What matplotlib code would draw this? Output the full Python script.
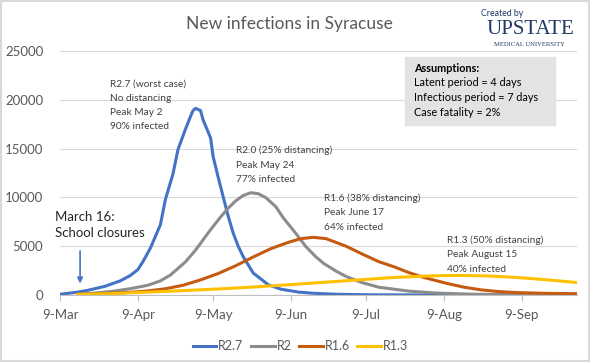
import datetime as dt

import matplotlib.dates as mdates
import matplotlib.pyplot as plt
import numpy as np

plt.rcParams["font.family"] = ["Lato", "DejaVu Sans"]

START = dt.date(2020, 3, 9)

# days since 9-Mar, new infections
r27_days = [0, 7, 11, 18, 24, 28, 31, 33.5, 36.5, 40, 42.5, 45, 47.5, 50, 52, 53.5, 54.7,
            56, 57.8, 60, 61.8, 63.8, 65.7, 67.7, 69.7, 71.7, 73.7, 77.7, 83, 88, 95, 101,
            110, 125, 150, 206]
r27_vals = [70, 300, 480, 900, 1450, 2000, 2600, 3400, 4800, 7200, 9800, 12400, 14900,
            17000, 18300, 18900, 19130, 18900, 17950, 16100, 14200, 12100, 10070, 8100,
            6350, 5000, 3930, 2250, 1050, 600, 300, 180, 80, 20, 5, 0]

r2_days = [7, 14, 21, 28, 35, 40, 44, 50, 54, 60, 64, 67, 70, 73, 76, 79, 82, 86, 89.6,
           94, 98, 102, 105, 110, 114, 120, 127.5, 139, 150, 165, 185, 206]
r2_vals = [80, 200, 380, 650, 1000, 1450, 2050, 3400, 4600, 6700, 8000, 8900, 9650,
           10200, 10480, 10380, 9980, 9050, 7900, 6300, 4950, 3900, 3250, 2450, 1900, 1300,
           800, 400, 200, 80, 30, 10]

r16_days = [7, 14, 21, 28, 35, 42, 49, 56, 63, 70, 77, 84, 91, 96, 101, 106, 114, 120,
            127.5, 133, 139, 145, 154, 161, 168, 175, 182, 194, 206]
r16_vals = [60, 110, 180, 280, 420, 640, 1000, 1550, 2200, 3000, 3900, 4750, 5400, 5780,
            5910, 5780, 5000, 4250, 3420, 2900, 2300, 1800, 1200, 800, 520, 350, 250, 170,
            140]

r13_days = [7, 21, 35, 49, 63, 77, 91, 105, 119, 133, 147, 159, 170, 182, 194, 206]
r13_vals = [50, 150, 300, 450, 620, 820, 1050, 1300, 1550, 1800, 1960, 2010, 1960, 1800,
            1560, 1280]

series = [
    ("R2.7", r27_days, r27_vals, "#4472C4"),
    ("R2", r2_days, r2_vals, "#8C8C8C"),
    ("R1.6", r16_days, r16_vals, "#C55A11"),
    ("R1.3", r13_days, r13_vals, "#FFC000"),
]

tick_months = [3, 4, 5, 6, 7, 8, 9]


def to_dates(days):
    return [START + dt.timedelta(days=d) for d in days]


def day(d):
    return mdates.date2num(START + dt.timedelta(days=d))


fig = plt.figure(figsize=(5.9, 3.62), dpi=100)
ax = fig.add_axes([0.1017, 0.185, 0.8763, 0.674])

for name, days, vals, color in series:
    ax.plot(to_dates(days), vals, color=color, lw=2.2, label=name, solid_joinstyle="round")

ax.set_ylim(0, 25000)
ax.set_xlim(START, START + dt.timedelta(days=206))
ax.set_yticks(np.arange(0, 25001, 5000))
ax.set_xticks([dt.date(2020, m, 9) for m in tick_months])
ax.xaxis.set_major_formatter(mdates.DateFormatter("%-d-%b"))
ax.grid(axis="y", color="#D9D9D9", lw=0.8)
ax.set_axisbelow(True)
for s in ["top", "right", "left"]:
    ax.spines[s].set_visible(False)
ax.spines["bottom"].set_color("#BFBFBF")
ax.tick_params(axis="y", length=0, labelsize=9.5, labelcolor="#595959", pad=12)
ax.tick_params(axis="x", length=4, color="#BFBFBF", labelsize=9.5, labelcolor="#595959", pad=6)

txt = dict(fontsize=7.3, color="#404040", va="top", ha="left", linespacing=1.75)
ax.text(day(20), 22100, "R2.7 (worst case)\nNo distancing\nPeak May 2\n90% infected", **txt)
ax.text(day(70.5), 15300, "R2.0 (25% distancing)\nPeak May 24\n77% infected", **txt)
ax.text(day(105.6), 10400, "R1.6 (38% distancing)\nPeak June 17\n64% infected", **txt)
ax.text(day(154.6), 6100, "R1.3 (50% distancing)\nPeak August 15\n40% infected", **txt)

ax.text(day(-1.3), 8600, "March 16:\nSchool closures", fontsize=9.5, color="#262626",
        va="top", ha="left", linespacing=1.35)
ax.annotate("", xy=(day(8.8), 900), xytext=(day(8.8), 4800),
            arrowprops=dict(arrowstyle="-|>", color="#4472C4", lw=1.2, mutation_scale=8))

fig.text(0.49, 0.935, "New infections in Syracuse", fontsize=12.5, color="#595959",
         ha="center", va="center")

# assumptions box
fig.patches.append(plt.Rectangle((405 / 590, 1 - 125 / 362), 150 / 590, 68 / 362,
                                 transform=fig.transFigure, color="#E3E3E3", zorder=1))
fig.text(414 / 590, 1 - 69 / 362, "Assumptions:", fontsize=7.8, fontweight="bold",
         color="black", va="center", zorder=2)
for i, line in enumerate(["Latent period = 4 days", "Infectious period = 7 days",
                          "Case fatality = 2%"]):
    fig.text(414 / 590, 1 - (83 + 14.5 * i) / 362, line, fontsize=7.8, color="black",
             va="center", zorder=2)

# logo
fig.text(481 / 590, 1 - 13 / 362, "Created by", fontsize=6.3, color="#1F3864", va="center")
fig.text(530 / 590, 1 - 30 / 362, "UPSTATE", fontsize=15, color="#1F3864", va="center",
         ha="center", family="Liberation Serif")
fig.text(529 / 590, 1 - 44 / 362, "MEDICAL UNIVERSITY", fontsize=4.8, color="#1F3864",
         va="center", ha="center", family="Liberation Serif")

ax.legend(loc="upper center", bbox_to_anchor=(0.465, -0.14), ncol=4, frameon=False,
          fontsize=9, labelcolor="#595959", handlelength=1.9, handletextpad=0.15,
          columnspacing=0.6)

fig.patches.append(plt.Rectangle((0.002, 0.003), 0.996, 0.994, transform=fig.transFigure,
                                 fill=False, edgecolor="#D9D9D9", lw=1.5))

fig.savefig("out.png", dpi=100)
